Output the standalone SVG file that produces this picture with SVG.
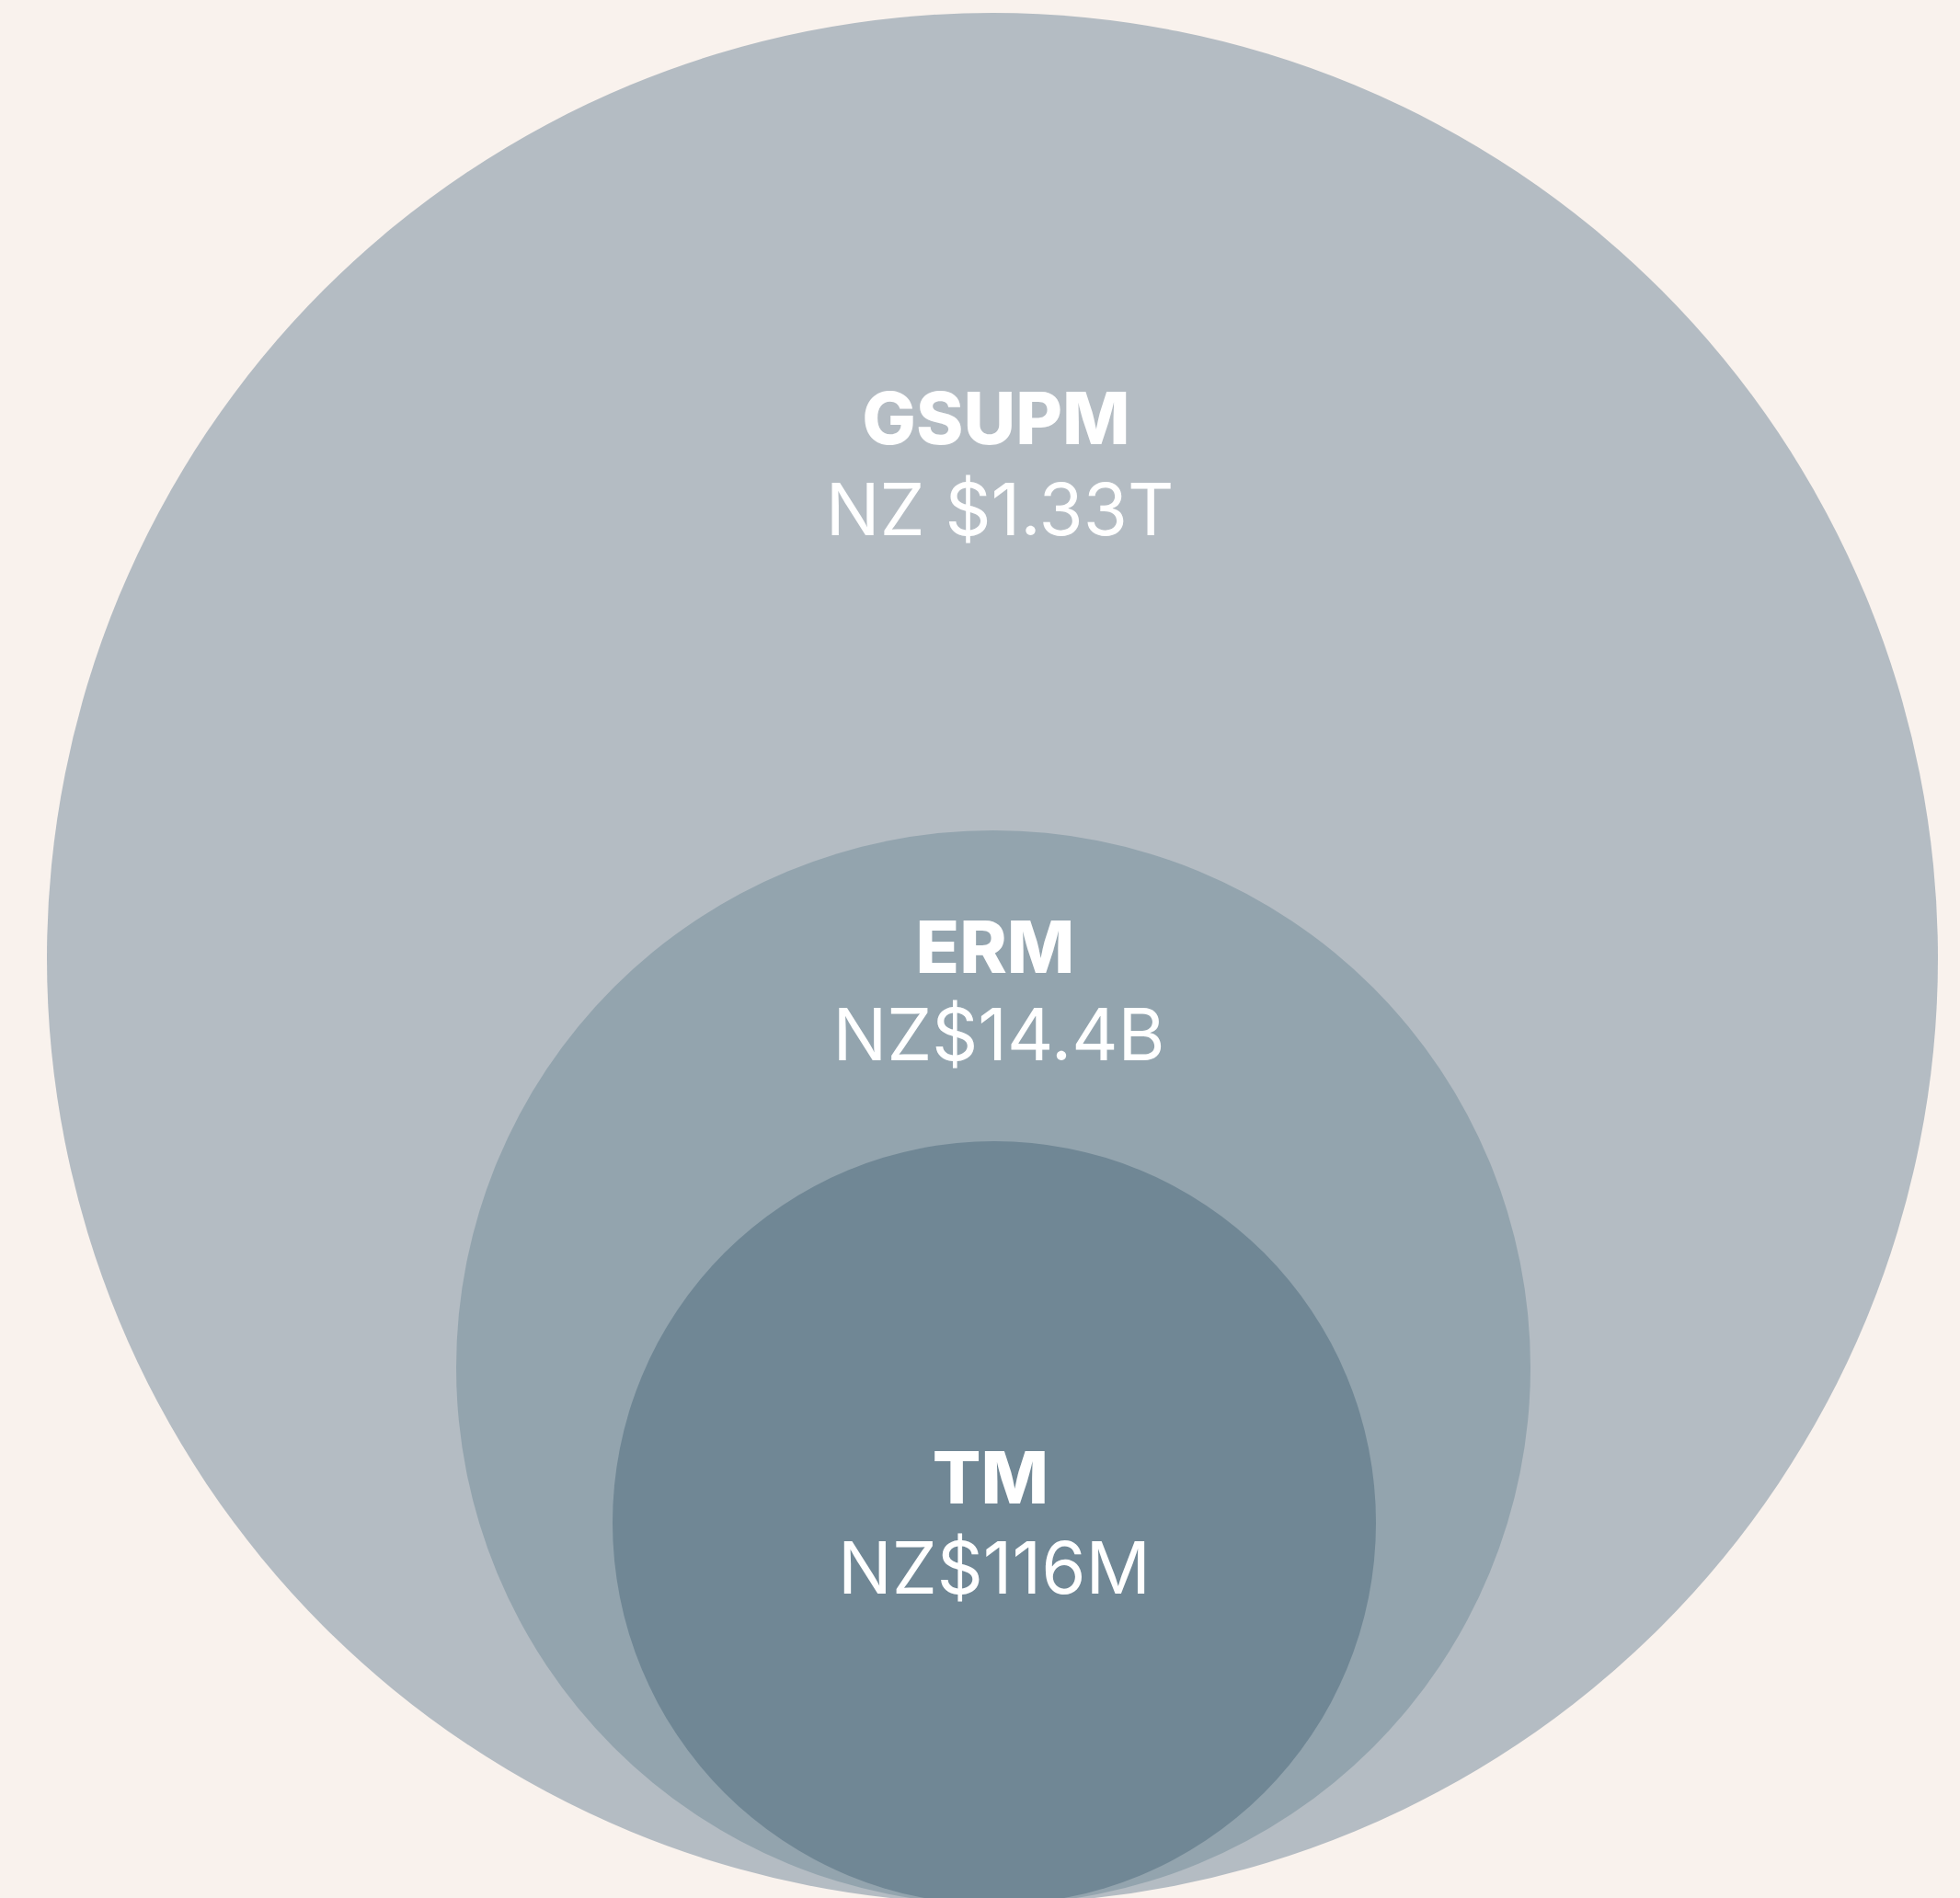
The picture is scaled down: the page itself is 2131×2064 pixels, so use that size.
<svg xmlns="http://www.w3.org/2000/svg" width="2131" height="2064" viewBox="0 0 2131 2064">
  <style>
    .title { font-family: Inter, "Open Sans", "Liberation Sans", sans-serif; font-weight: 800; font-size: 78px; fill: #ffffff; text-anchor: middle; }
    .value { font-family: Inter, "Open Sans", "Liberation Sans", sans-serif; font-weight: 400; font-size: 78px; fill: #ffffff; text-anchor: middle; }
  </style>
  <rect x="0" y="0" width="2131" height="2064" fill="#f9f2ed"/>
  <g id="gsupm">
    <circle cx="1079" cy="1042" r="1028" fill="#b4bcc3"/>
    <text class="title" x="1083" y="483">GSUPM</text>
    <text class="value" x="1087" y="582">NZ $1.33T</text>
  </g>
  <g id="erm">
    <circle cx="1080" cy="1487" r="584" fill="#93a4ae"/>
    <text class="title" x="1082" y="1058">ERM</text>
    <text class="value" x="1086" y="1153">NZ$14.4B</text>
  </g>
  <g id="tm">
    <circle cx="1081" cy="1656" r="415" fill="#708795"/>
    <text class="title" x="1077" y="1635">TM</text>
    <text class="value" x="1081" y="1733">NZ$116M</text>
  </g>
  <g id="connectors"/>
</svg>
